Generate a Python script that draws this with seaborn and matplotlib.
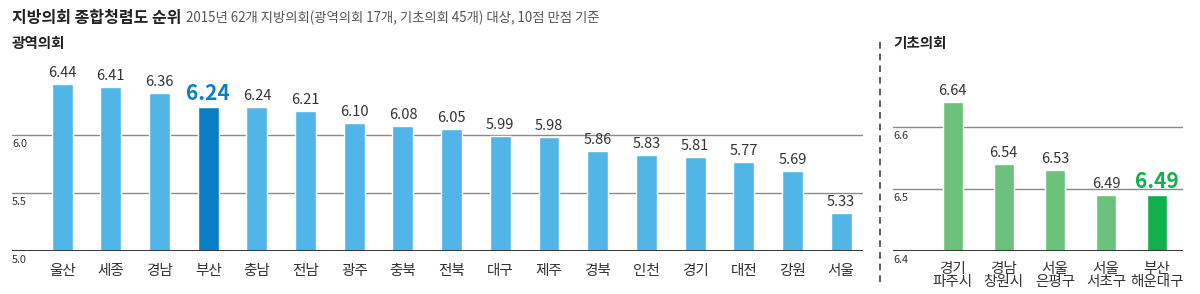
import numpy as np
import pandas as pd
import matplotlib.pyplot as plt
import matplotlib as mpl
from matplotlib.lines import Line2D
import seaborn as sns

sns.set_style("white")
plt.rcParams['font.family'] = ['Noto Sans CJK KR', 'DejaVu Sans']

# 광역의회
regions = ['울산', '세종', '경남', '부산', '충남', '전남', '광주', '충북', '전북',
           '대구', '제주', '경북', '인천', '경기', '대전', '강원', '서울']
region_scores = [6.44, 6.41, 6.36, 6.24, 6.24, 6.21, 6.10, 6.08, 6.05,
                 5.99, 5.98, 5.86, 5.83, 5.81, 5.77, 5.69, 5.33]
region_ticks = [5.0, 5.5, 6.0]

# 기초의회
locals_ = ['경기\n파주시', '경남\n창원시', '서울\n은평구', '서울\n서초구', '부산\n해운대구']
local_scores = [6.64, 6.54, 6.53, 6.49, 6.49]
local_ticks = [6.4, 6.5, 6.6]

BLUE, BLUE_HI = '#52b5e7', '#0b7ec6'
GREEN, GREEN_HI = '#6cc17d', '#10b04b'
highlight_region = '부산'
highlight_local = '부산\n해운대구'

fig = plt.figure(figsize=(12, 2.94), dpi=100)
fig.patch.set_facecolor('white')


def draw_panel(ax, names, scores, ticks, base, color, hcolor, hname, width):
    df = pd.DataFrame({'name': names, 'score': scores})
    pal = {n: (hcolor if n == hname else color) for n in names}
    sns.barplot(data=df, x='name', y='score', hue='name', palette=pal,
                legend=False, width=width, ax=ax, saturation=1)
    for t in ticks:
        if t == base:
            ax.axhline(t, color='#3c3c3c', lw=2.2, zorder=3)
        else:
            ax.axhline(t, color='#8a8a8a', lw=1, zorder=0)
        ax.annotate(f"{t:.1f}", (0, t), xycoords=ax.get_yaxis_transform(),
                    xytext=(0, -3), textcoords='offset points',
                    ha='left', va='top', fontsize=7.8, color='#333333')
    for i, (n, v) in enumerate(zip(names, scores)):
        if n == hname:
            ax.annotate(f"{v:.2f}", (i, v), xytext=(0, 2), textcoords='offset points',
                        ha='center', va='bottom', fontsize=15, fontweight='bold',
                        color=hcolor)
        else:
            ax.annotate(f"{v:.2f}", (i, v), xytext=(0, 3), textcoords='offset points',
                        ha='center', va='bottom', fontsize=10.5, color='#333333')
    ax.set_yticks([])
    ax.set_xlabel('')
    ax.set_ylabel('')
    ax.tick_params(axis='x', length=0, pad=9, labelsize=10.5, labelcolor='#333333')
    for s in ax.spines.values():
        s.set_visible(False)
    ax.patch.set_alpha(0)


ax1 = fig.add_axes([12 / 1200, 43 / 294, 851 / 1200, 191 / 294])
ax1.set_ylim(5.0, 6.647)
draw_panel(ax1, regions, region_scores, region_ticks, 5.0, BLUE, BLUE_HI,
           highlight_region, 0.43)
ax1.set_xlim(-1.03, 16.45)
ax1.set_ylim(5.0, 6.647)

ax2 = fig.add_axes([893 / 1200, 43 / 294, 290 / 1200, 191 / 294])
ax2.set_ylim(6.4, 6.708)
draw_panel(ax2, locals_, local_scores, local_ticks, 6.4, GREEN, GREEN_HI,
           highlight_local, 0.39)
ax2.set_xlim(-1.17, 4.51)
ax2.set_ylim(6.4, 6.708)
ax2.tick_params(axis='x', pad=8, labelsize=10.5)
for lab in ax2.get_xticklabels():
    lab.set_linespacing(0.9)

# separator
fig.add_artist(Line2D([880 / 1200, 880 / 1200], [12 / 294, 254 / 294],
                      color='#444444', lw=1.2, linestyle=(0, (4, 3))))

title = fig.text(12 / 1200, 1 - 18 / 294, '지방의회 종합청렴도 순위', fontsize=11.5,
                 fontweight='bold', color='#222222', va='center', ha='left')
fig.canvas.draw()
bb = title.get_window_extent(renderer=fig.canvas.get_renderer())
fig.text((bb.x1 + 5) / 1200, 1 - 18 / 294,
         '2015년 62개 지방의회(광역의회 17개, 기초의회 45개) 대상, 10점 만점 기준',
         fontsize=9.6, color='#555555', va='center', ha='left')
fig.text(12 / 1200, 1 - 43 / 294, '광역의회', fontsize=10.5, fontweight='bold',
         color='#222222', va='center', ha='left')
fig.text(893 / 1200, 1 - 43 / 294, '기초의회', fontsize=10.5, fontweight='bold',
         color='#222222', va='center', ha='left')

plt.savefig('out.png', dpi=100, facecolor='white')
